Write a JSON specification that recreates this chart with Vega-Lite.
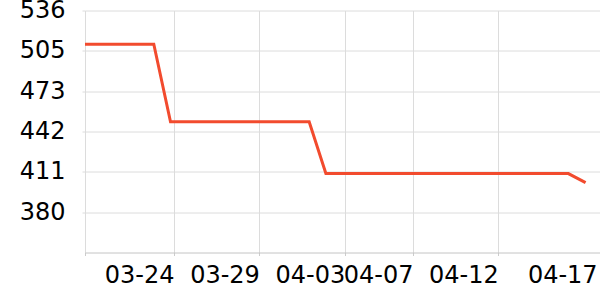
{
  "$schema": "https://vega.github.io/schema/vega-lite/v6.json",
  "width": 515,
  "height": 242,
  "autosize": {"type": "none"},
  "padding": {"left": 85, "top": 10.5, "right": 0, "bottom": 47.5},
  "background": "white",
  "config": {
    "view": {"stroke": null},
    "axis": {"labelFont": "DejaVu Sans", "labelFontSize": 24, "labelColor": "#000", "gridColor": "#dcdcdc", "gridWidth": 1, "tickColor": "#cccccc", "tickSize": 3, "title": null}
  },
  "data": {
    "values": [
      {"date": "2024-03-18T18:45:00", "value": 510},
      {"date": "2024-03-22T19:30:00", "value": 510},
      {"date": "2024-03-23T19:00:00", "value": 450},
      {"date": "2024-03-31T22:00:00", "value": 450},
      {"date": "2024-04-01T21:30:00", "value": 410},
      {"date": "2024-04-16T02:30:00", "value": 410},
      {"date": "2024-04-17T02:45:00", "value": 403}
    ]
  },
  "mark": {"type": "line", "color": "#f24b2e", "strokeWidth": 3, "clip": true},
  "encoding": {
    "x": {
      "field": "date",
      "type": "temporal",
      "scale": {
        "domain": [
          {"year": 2024, "month": 3, "date": 18, "hours": 18, "minutes": 45},
          {"year": 2024, "month": 4, "date": 17, "hours": 23}
        ]
      },
      "axis": {
        "values": [
          {"year": 2024, "month": 3, "date": 18, "hours": 18, "minutes": 45},
          {"year": 2024, "month": 3, "date": 24},
          {"year": 2024, "month": 3, "date": 29},
          {"year": 2024, "month": 4, "date": 3},
          {"year": 2024, "month": 4, "date": 7},
          {"year": 2024, "month": 4, "date": 12},
          {"year": 2024, "month": 4, "date": 17}
        ],
        "labelExpr": "datum.value < datetime(2024, 2, 19) ? '' : timeFormat(datum.value, '%m-%d')",
        "labelAlign": "right",
        "labelBaseline": "top",
        "labelPadding": 7.5,
        "labelOverlap": false,
        "labelBound": false,
        "labelFlush": false,
        "labelOffset": {"condition": {"test": "datum.value > datetime(2024, 3, 15)", "value": 13.5}, "value": 0},
        "gridOpacity": {"condition": {"test": "datum.value > datetime(2024, 3, 15)", "value": 0}, "value": 1},
        "tickOpacity": {"condition": {"test": "datum.value > datetime(2024, 3, 15)", "value": 0}, "value": 1},
        "domainColor": "#c4c4c4",
        "grid": true
      }
    },
    "y": {
      "field": "value",
      "type": "quantitative",
      "scale": {"domain": [349, 536], "nice": false, "zero": false},
      "axis": {
        "values": [380.17, 411.33, 442.5, 473.67, 504.83, 536],
        "labelExpr": "format(floor(datum.value + 0.2), 'd')",
        "labelPadding": 17,
        "domain": false,
        "tickColor": "#dcdcdc",
        "labelOverlap": false,
        "labelBound": false,
        "labelFlush": false,
        "grid": true
      }
    }
  }
}
